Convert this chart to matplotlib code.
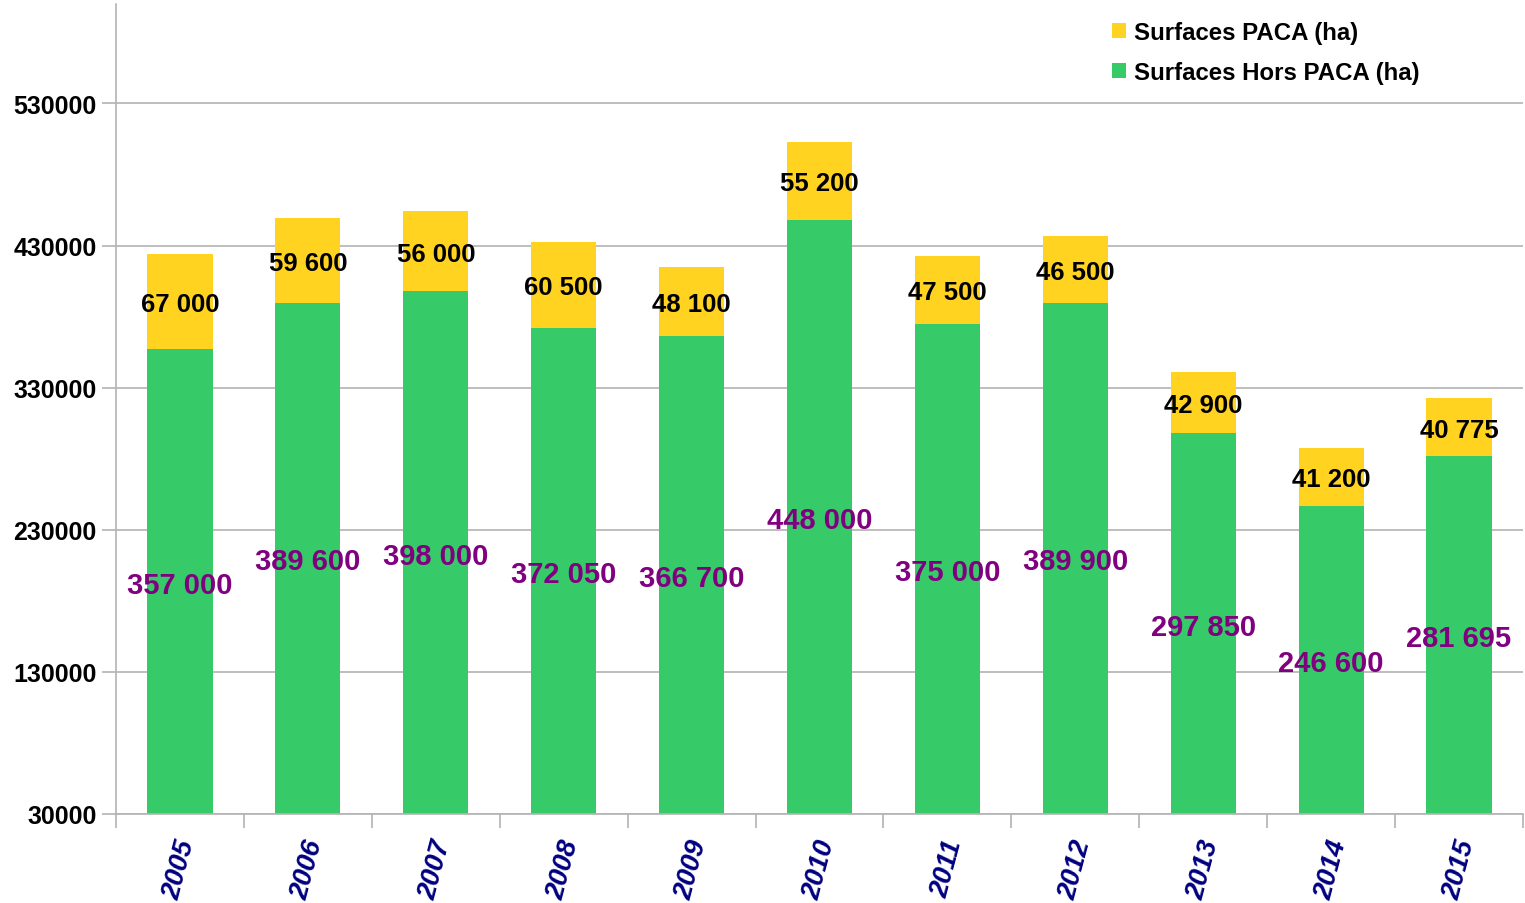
import matplotlib
matplotlib.use("Agg")
import matplotlib.pyplot as plt
import matplotlib.transforms as mtransforms
import numpy as np

plt.rcParams["font.family"] = ["Liberation Sans", "DejaVu Sans"]
plt.rcParams["font.weight"] = "bold"

# ── data ──────────────────────────────────────────────────────────────────────
years = ["2005", "2006", "2007", "2008", "2009", "2010",
         "2011", "2012", "2013", "2014", "2015"]
hors_paca = [357000, 389600, 398000, 372050, 366700, 448000,
             375000, 389900, 297850, 246600, 281695]
paca = [67000, 59600, 56000, 60500, 48100, 55200,
        47500, 46500, 42900, 41200, 40775]
hors_labels = ["357 000", "389 600", "398 000", "372 050", "366 700", "448 000",
               "375 000", "389 900", "297 850", "246 600", "281 695"]
paca_labels = ["67 000", "59 600", "56 000", "60 500", "48 100", "55 200",
               "47 500", "46 500", "42 900", "41 200", "40 775"]
y_ticks = [30000, 130000, 230000, 330000, 430000, 530000]

GREEN = "#36cb68"
YELLOW = "#ffd320"
GRID = "#b3b3b3"
Y_MIN, Y_MAX = 30000, 600000

fig = plt.figure(figsize=(15.25, 9.04), dpi=100)
ax = fig.add_axes([116 / 1525, 1 - 815 / 904, (1523 - 116) / 1525, (815 - 5) / 904])

x = np.arange(len(years))
bars_g = ax.bar(x, hors_paca, width=0.51, color=GREEN, zorder=2,
                label="Surfaces Hors PACA (ha)")
bars_y = ax.bar(x, paca, width=0.51, bottom=hors_paca, color=YELLOW, zorder=2,
                label="Surfaces PACA (ha)")

# labels: green centred on the visible part, yellow centred on its segment
for i in range(len(years)):
    ax.text(x[i], (Y_MIN + hors_paca[i]) / 2, hors_labels[i], ha="center",
            va="center_baseline", color="#800080", fontsize=21, fontweight="bold",
            zorder=3)
    ax.text(x[i], hors_paca[i] + paca[i] / 2, paca_labels[i], ha="center",
            va="center_baseline", color="black", fontsize=18.5, fontweight="bold",
            zorder=3)

ax.set_xlim(-0.5, len(years) - 0.5)
ax.set_ylim(Y_MIN, Y_MAX)
ax.set_yticks(y_ticks)
ax.set_yticklabels([str(v) for v in y_ticks], fontsize=18, fontweight="bold")
ax.yaxis.grid(True, color=GRID, linewidth=1.2, zorder=0)

ax.set_xticks(x)
ax.set_xticklabels(years, rotation=75, fontsize=19.5, fontweight="bold",
                   fontstyle="italic", color="#000080", ha="center", va="top")
shift = mtransforms.ScaledTranslation(-5 / 100, 0, fig.dpi_scale_trans)
for lab in ax.get_xticklabels():
    lab.set_transform(lab.get_transform() + shift)
ax.set_xticks(np.arange(len(years) + 1) - 0.5, minor=True)
ax.tick_params(axis="x", which="major", length=0, pad=16)
ax.tick_params(axis="x", which="minor", length=10, color=GRID, width=1.2)
ax.tick_params(axis="y", length=10, color=GRID, width=1.2, pad=4)

for side in ("top", "right"):
    ax.spines[side].set_visible(False)
for side in ("left", "bottom"):
    ax.spines[side].set_color(GRID)
    ax.spines[side].set_linewidth(1.2)

handles = [bars_y, bars_g]
ax.legend(handles, [h.get_label() for h in handles], loc="upper left",
          bbox_to_anchor=(1090 / 1525, 1 - 0 / 904), bbox_transform=fig.transFigure,
          frameon=False, prop={"size": 17.3, "weight": "bold"},
          handlelength=0.6, handleheight=0.6, handletextpad=0.35, labelspacing=0.72)

fig.savefig("out.png", dpi=100)
